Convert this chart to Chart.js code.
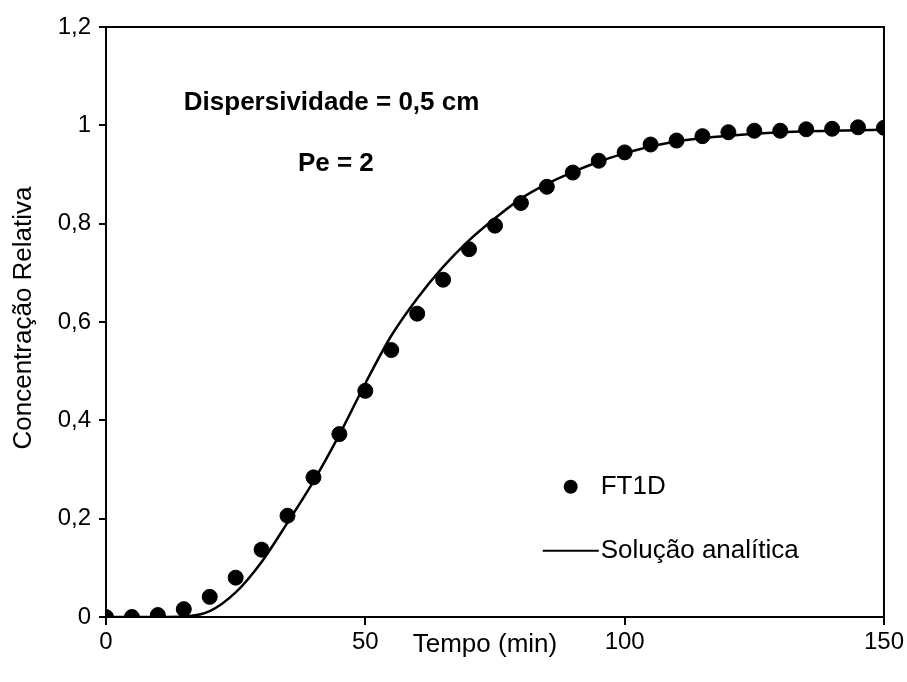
<!DOCTYPE html>
<html>
<head>
<meta charset="utf-8">
<script src="https://cdn.jsdelivr.net/npm/chart.js@4.4.1/dist/chart.umd.min.js"></script>
<style>
  html, body { margin: 0; padding: 0; background: #fff; }
  #wrap { width: 907px; height: 682px; }
</style>
</head>
<body>
<div id="wrap"><canvas id="curve" width="907" height="682"></canvas></div>
<script>
// tempo (min), passo de 5 min
const tempos = [0, 5, 10, 15, 20, 25, 30, 35, 40, 45, 50, 55, 60, 65, 70, 75,
  80, 85, 90, 95, 100, 105, 110, 115, 120, 125, 130, 135, 140, 145, 150];

// concentração relativa - modelo FT1D
const ft1d = [0, 0, 0.004, 0.016, 0.041, 0.08, 0.137, 0.206, 0.284, 0.372, 0.46,
  0.543, 0.617, 0.686, 0.748, 0.796, 0.842, 0.875, 0.904, 0.928, 0.945, 0.961,
  0.969, 0.978, 0.986, 0.989, 0.989, 0.992, 0.993, 0.996, 0.995];

// concentração relativa - solução analítica
const analitica = [0, 0, 0, 0.001, 0.012, 0.05, 0.112, 0.192, 0.276, 0.371, 0.475,
  0.572, 0.648, 0.712, 0.766, 0.811, 0.851, 0.881, 0.905, 0.926, 0.943, 0.957,
  0.967, 0.974, 0.979, 0.983, 0.986, 0.988, 0.989, 0.99, 0.991];

const xTicks = [0, 50, 100, 150];
const yTicks = [0, 0.2, 0.4, 0.6, 0.8, 1, 1.2];

const FONT = '"Liberation Sans", Arial, sans-serif';

const pares = (ys) => tempos.map((t, i) => ({ x: t, y: ys[i] }));
const fmt = (v) => String(Math.round(v * 10) / 10).replace('.', ',');

// textos dentro do gráfico, em coordenadas dos eixos
const notas = [
  { text: 'Dispersividade = 0,5 cm', x: 15.0, y: 1.045 },
  { text: 'Pe = 2', x: 37.0, y: 0.922 },
];

const textosPlugin = {
  id: 'textos',
  afterDraw(chart) {
    const { ctx, scales: { x, y }, chartArea } = chart;
    ctx.save();
    ctx.fillStyle = '#000';
    ctx.strokeStyle = '#000';
    ctx.textBaseline = 'middle';

    // anotações em negrito
    ctx.font = 'bold 26px ' + FONT;
    ctx.textAlign = 'left';
    notas.forEach((n) => ctx.fillText(n.text, x.getPixelForValue(n.x), y.getPixelForValue(n.y)));

    // legenda
    ctx.font = '26px ' + FONT;
    const lx = x.getPixelForValue(84.2);
    const ly1 = y.getPixelForValue(0.265);
    const ly2 = y.getPixelForValue(0.135);
    ctx.beginPath();
    ctx.arc(lx + 28, ly1, 7, 0, Math.PI * 2);
    ctx.fill();
    ctx.fillText('FT1D', lx + 58, ly1);
    ctx.lineWidth = 2;
    ctx.beginPath();
    ctx.moveTo(lx, ly2);
    ctx.lineTo(lx + 56, ly2);
    ctx.stroke();
    ctx.fillText('Solução analítica', lx + 58, ly2);

    // título do eixo x, na mesma linha dos rótulos
    ctx.textAlign = 'center';
    ctx.fillText('Tempo (min)', (chartArea.left + chartArea.right) / 2 - 10, chartArea.bottom + 28);

    // título do eixo y
    ctx.translate(24, (chartArea.top + chartArea.bottom) / 2 - 4);
    ctx.rotate(-Math.PI / 2);
    ctx.fillText('Concentração Relativa', 0, 0);
    ctx.restore();

    // moldura
    ctx.save();
    ctx.strokeStyle = '#000';
    ctx.lineWidth = 2;
    ctx.strokeRect(chartArea.left, chartArea.top, chartArea.right - chartArea.left, chartArea.bottom - chartArea.top);
    ctx.restore();
  },
};

new Chart(document.getElementById('curve'), {
  type: 'scatter',
  data: {
    datasets: [
      {
        label: 'FT1D',
        data: pares(ft1d),
        backgroundColor: '#000',
        borderColor: '#000',
        pointRadius: 7.5,
        pointHoverRadius: 7.5,
        showLine: false,
        order: 0,
      },
      {
        label: 'Solução analítica',
        data: pares(analitica),
        borderColor: '#000',
        borderWidth: 2.5,
        pointRadius: 0,
        showLine: true,
        cubicInterpolationMode: 'monotone',
        order: 1,
      },
    ],
  },
  options: {
    responsive: false,
    animation: false,
    layout: { padding: { top: 27, right: 20, left: 0, bottom: 0 } },
    plugins: {
      legend: { display: false },
      tooltip: { enabled: false },
    },
    scales: {
      x: {
        type: 'linear',
        min: 0,
        max: 150,
        afterBuildTicks: (s) => { s.ticks = xTicks.map((v) => ({ value: v })); },
        afterFit: (s) => { s.height = 65; },
        border: { color: '#000', width: 2 },
        grid: { drawOnChartArea: false, color: '#000', lineWidth: 2, tickLength: 8 },
        ticks: { color: '#000', font: { family: FONT, size: 24 }, padding: 3, maxRotation: 0 },
      },
      y: {
        type: 'linear',
        min: 0,
        max: 1.2,
        afterBuildTicks: (s) => { s.ticks = yTicks.map((v) => ({ value: v })); },
        afterFit: (s) => { s.width = 106; },
        border: { color: '#000', width: 2 },
        grid: { drawOnChartArea: false, color: '#000', lineWidth: 2, tickLength: 7 },
        ticks: { color: '#000', font: { family: FONT, size: 24 }, padding: 8, callback: (v) => fmt(v) },
      },
    },
  },
  plugins: [textosPlugin],
});
</script>
</body>
</html>
